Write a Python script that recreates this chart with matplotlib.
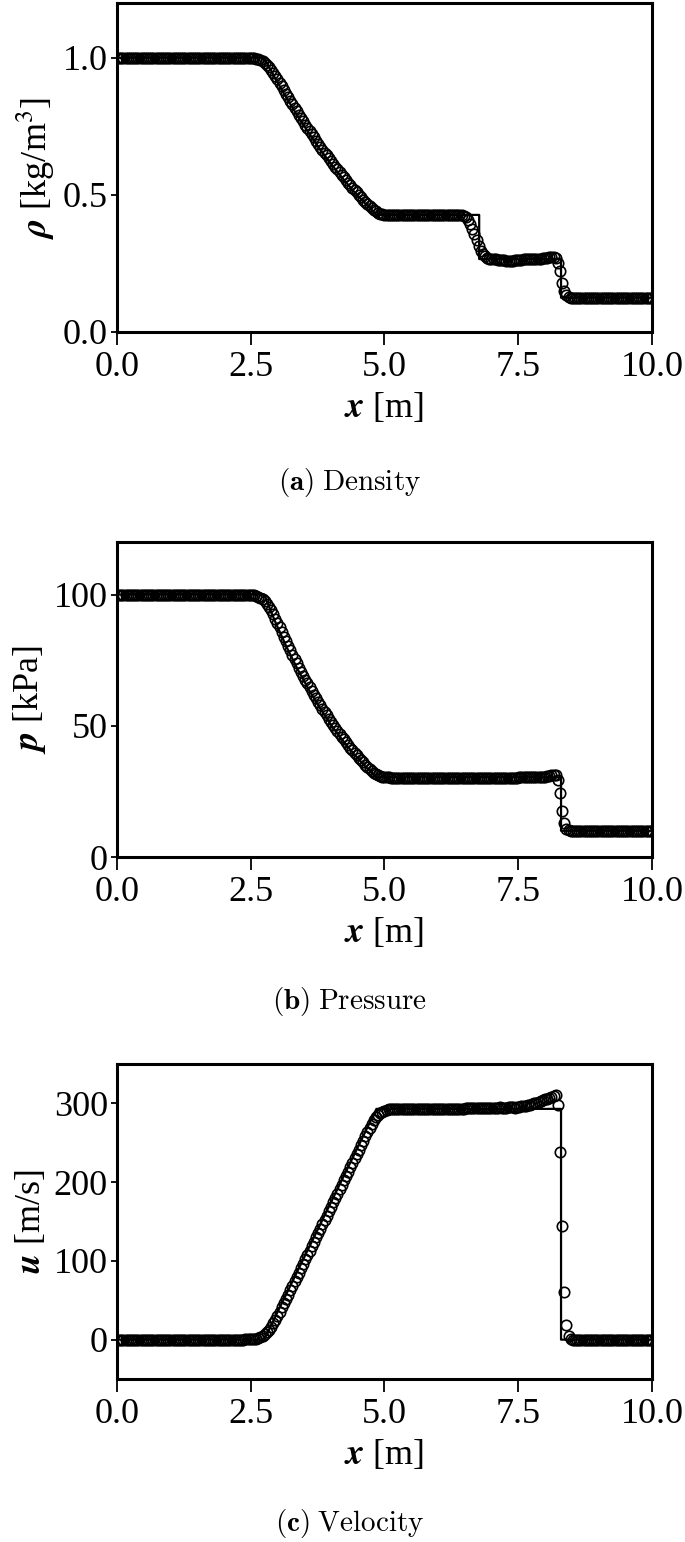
import numpy as np
import matplotlib
matplotlib.use("Agg")
import matplotlib.pyplot as plt

plt.rcParams['font.family'] = ['Liberation Serif', 'DejaVu Serif']
plt.rcParams['mathtext.fontset'] = 'stix'

# numerical solution, cell centres every 0.04 m
x_num = np.linspace(0.0, 10.0, 251)

# rarefaction part of the numerical data, x = 2.40 ... 5.48
u_fan = [0.2, 0.3, 0.4, 0.6, 0.9, 1.4, 2.2, 3.2, 4.8, 6.8, 9.4, 12.7, 16.5, 20.8, 25.5, 30.5,
         35.6, 40.9, 46.4, 51.8, 57.3, 62.8, 68.4, 73.9, 79.5, 85.1, 90.7, 96.3, 101.8, 107.4,
         113.0, 118.6, 124.2, 129.7, 135.3, 140.9, 146.5, 152.1, 157.6, 163.2, 168.8, 174.4,
         180.0, 185.5, 191.1, 196.7, 202.3, 207.9, 213.4, 219.0, 224.6, 230.2, 235.8, 241.3,
         246.9, 252.5, 258.1, 263.6, 269.0, 274.0, 278.4, 282.2, 285.3, 287.7, 289.5, 290.8,
         291.7, 292.3, 292.7, 293.0, 293.1, 293.2, 293.2, 293.3, 293.3, 293.3, 293.4, 293.4]
rho_fan = [0.9995, 0.9992, 0.9989, 0.9984, 0.9976, 0.9963, 0.9941, 0.9915, 0.9873, 0.9820,
           0.9751, 0.9665, 0.9567, 0.9456, 0.9337, 0.9211, 0.9085, 0.8954, 0.8820, 0.8689,
           0.8559, 0.8430, 0.8300, 0.8175, 0.8049, 0.7924, 0.7800, 0.7678, 0.7560, 0.7441,
           0.7324, 0.7208, 0.7093, 0.6982, 0.6870, 0.6759, 0.6650, 0.6542, 0.6437, 0.6332,
           0.6228, 0.6126, 0.6025, 0.5927, 0.5828, 0.5730, 0.5634, 0.5540, 0.5448, 0.5356,
           0.5265, 0.5175, 0.5087, 0.5000, 0.4914, 0.4828, 0.4744, 0.4663, 0.4584, 0.4512,
           0.4449, 0.4396, 0.4352, 0.4319, 0.4295, 0.4277, 0.4268, 0.4262, 0.4258, 0.4255,
           0.4253, 0.4252, 0.4251, 0.4250, 0.4250, 0.4249, 0.4249, 0.4249]
p_fan = [99.93, 99.89, 99.85, 99.78, 99.66, 99.48, 99.18, 98.81, 98.22, 97.48, 96.53, 95.34,
         93.99, 92.48, 90.84, 89.12, 87.45, 85.66, 83.88, 82.17, 80.43, 78.74, 77.05, 75.42,
         73.79, 72.19, 70.63, 69.08, 67.60, 66.12, 64.66, 63.23, 61.82, 60.47, 59.13, 57.79,
         56.48, 55.20, 53.97, 52.74, 51.53, 50.36, 49.19, 48.08, 46.96, 45.87, 44.80, 43.74,
         42.73, 41.72, 40.73, 39.76, 38.81, 37.90, 36.98, 36.09, 35.21, 34.36, 33.56, 32.82,
         32.19, 31.65, 31.21, 30.87, 30.63, 30.45, 30.36, 30.30, 30.26, 30.23, 30.21, 30.20,
         30.20, 30.19, 30.19, 30.18, 30.18, 30.18]

# contact region, x = 6.48 ... 7.04
rho_contact = [0.423, 0.418, 0.408, 0.394, 0.376, 0.356, 0.334, 0.313, 0.296, 0.284, 0.276,
               0.271, 0.268, 0.266, 0.265]
u_contact = [293.4, 293.5, 293.6, 293.8, 294.0, 294.2, 294.3, 294.2, 294.0, 293.8, 293.6,
             293.5, 293.6, 293.8, 294.0]
p_contact = [30.2] * 15

# post-shock plateau, x = 7.08 ... 7.96
rho_post = [0.265, 0.264, 0.263, 0.262, 0.261, 0.260, 0.260, 0.260, 0.260, 0.261, 0.262, 0.263,
            0.264, 0.265, 0.265, 0.266, 0.266, 0.266, 0.267, 0.267, 0.268, 0.268, 0.269]
u_post = [294.0, 294.5, 295.0, 294.0, 293.5, 294.0, 295.0, 296.0, 295.0, 294.5, 295.0, 296.0,
          297.0, 296.5, 297.0, 298.0, 298.5, 299.0, 300.0, 301.0, 302.0, 303.0, 304.0]
p_post = [30.2, 30.2, 30.2, 30.2, 30.2, 30.2, 30.2, 30.2, 30.2, 30.2, 30.2, 30.3, 30.3, 30.3,
          30.3, 30.4, 30.4, 30.4, 30.5, 30.5, 30.5, 30.6, 30.6]

# shock region, x = 8.00 ... 8.52
rho_shock = [0.270, 0.271, 0.272, 0.273, 0.274, 0.270, 0.252, 0.222, 0.180, 0.150, 0.134,
             0.127, 0.125, 0.125]
u_shock = [305.0, 306.0, 307.0, 308.0, 309.5, 311.0, 298.0, 238.0, 144.0, 61.0, 18.0, 5.0,
           1.0, 0.0]
p_shock = [30.6, 30.8, 31.0, 31.2, 31.4, 31.3, 29.5, 24.5, 17.5, 12.8, 10.8, 10.2, 10.0, 10.0]

rho_num = [1.0] * 60 + rho_fan + [0.4249] * 24 + rho_contact + rho_post + rho_shock + [0.125] * 37
p_num = [100.0] * 60 + p_fan + [30.18] * 24 + p_contact + p_post + p_shock + [10.0] * 37
u_num = [0.0] * 60 + u_fan + [293.4] * 24 + u_contact + u_post + u_shock + [0.0] * 37

# exact solution
x_fan_ex = [2.75, 2.96, 3.17, 3.38, 3.59, 3.80, 4.01, 4.22, 4.43, 4.64, 4.85]
rho_fan_ex = [1.0, 0.924, 0.853, 0.786, 0.724, 0.665, 0.611, 0.560, 0.512, 0.468, 0.427]
p_fan_ex = [100.0, 89.5, 80.0, 71.4, 63.6, 56.5, 50.1, 44.4, 39.2, 34.5, 30.4]

x_rho_ex = [0.0] + x_fan_ex + [6.77, 6.77, 8.30, 8.30, 10.0]
rho_ex = [1.0] + rho_fan_ex + [0.427, 0.266, 0.266, 0.125, 0.125]
x_p_ex = [0.0] + x_fan_ex + [8.30, 8.30, 10.0]
p_ex = [100.0] + p_fan_ex + [30.4, 10.0, 10.0]
x_u_ex = [0.0, 2.75, 4.85, 8.30, 8.30, 10.0]
u_ex = [0.0, 0.0, 293.0, 293.0, 0.0, 0.0]

panels = [
    (x_rho_ex, rho_ex, rho_num, r'$\boldsymbol{\rho}$ [kg/m$^3$]', (0, 1.2), [0.0, 0.5, 1.0], '%.1f',
     r'$\mathbf{(a)}$ $\mathrm{Density}$'),
    (x_p_ex, p_ex, p_num, r'$\boldsymbol{p}$ [kPa]', (0, 120), [0, 50, 100], '%d',
     r'$\mathbf{(b)}$ $\mathrm{Pressure}$'),
    (x_u_ex, u_ex, u_num, r'$\boldsymbol{u}$ [m/s]', (-50, 350), [0, 100, 200, 300], '%d',
     r'$\mathbf{(c)}$ $\mathrm{Velocity}$'),
]
boxes = [[0.1708, 0.7847, 0.781, 0.2134],
         [0.1708, 0.4442, 0.781, 0.2043],
         [0.1708, 0.1057, 0.781, 0.2043]]
caption_y = [0.6874, 0.3508, 0.0123]

fig = plt.figure(figsize=(6.85, 15.42), dpi=100)
for (xe, ye, yn, ylab, ylim, yt, fmt, cap), box, cy in zip(panels, boxes, caption_y):
    ax = fig.add_axes(box)
    ax.plot(x_num, yn, 'o', mfc='none', mec='k', ms=7.5, mew=1.2)
    ax.plot(xe, ye, 'k-', lw=1.6)
    ax.set_xlim(0, 10)
    ax.set_ylim(*ylim)
    ax.set_xticks([0, 2.5, 5, 7.5, 10])
    ax.set_xticklabels(['0.0', '2.5', '5.0', '7.5', '10.0'])
    ax.set_yticks(yt)
    ax.set_yticklabels([fmt % v for v in yt])
    ax.tick_params(axis='x', direction='out', length=9, width=1.3, labelsize=26, pad=5)
    ax.tick_params(axis='y', direction='out', length=4.5, width=1.3, labelsize=26, pad=2)
    for s in ax.spines.values():
        s.set_linewidth(2.2)
    ax.set_xlabel(r'$\boldsymbol{x}$ [m]', fontsize=26, labelpad=5)
    ax.set_ylabel(ylab, fontsize=26, labelpad=4)
    fig.text(0.51, cy, cap, ha='center', va='center', fontsize=21, math_fontfamily='cm')

fig.savefig('out.png', dpi=100)
